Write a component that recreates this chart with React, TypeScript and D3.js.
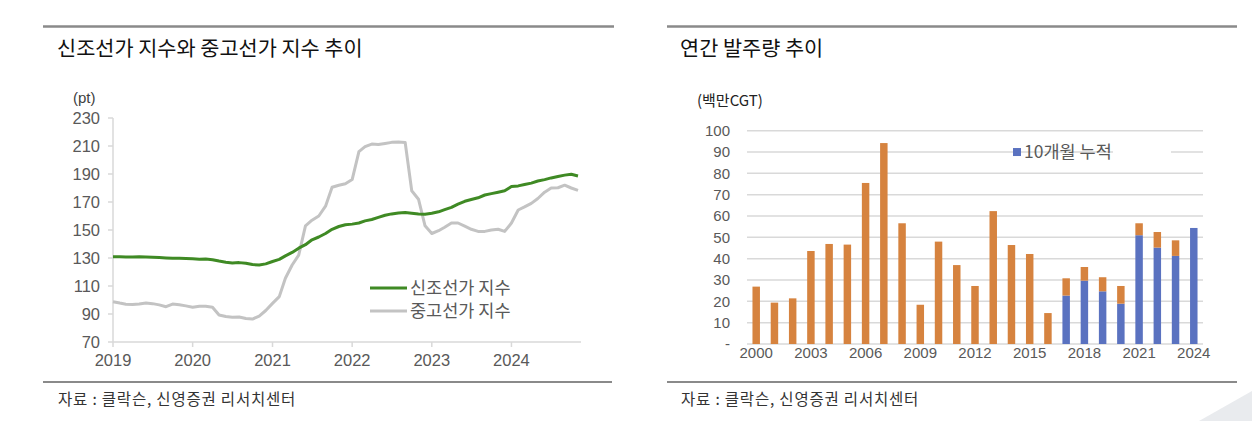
import React from "react";
import * as d3 from "d3";

// ---- left chart: monthly index values (Jan 2019 ~ Nov 2024)
const newbuildIndex = [
  130.9, 130.9, 130.8, 130.8, 130.9, 130.8, 130.6, 130.3, 130.0, 129.8, 129.8, 129.6,
  129.4, 129.1, 129.3, 128.8, 127.8, 127.0, 126.5, 126.7, 126.3, 125.3, 125.0, 125.8,
  127.5, 129.0, 131.5, 134.0, 137.0, 139.5, 143.0, 145.0, 147.5, 150.5, 152.5, 153.8,
  154.2, 155.0, 156.5, 157.5, 159.0, 160.5, 161.5, 162.2, 162.5, 162.0, 161.5, 161.3,
  162.0, 163.0, 164.5, 166.2, 168.5, 170.5, 171.8, 173.0, 175.0, 176.0, 177.0, 178.0,
  181.0, 181.5, 182.5, 183.5, 185.0, 186.0, 187.2, 188.2, 189.2, 189.8, 188.6,
];
const secondhandIndex = [
  98.8, 97.8, 97.0, 96.8, 97.2, 97.9, 97.4, 96.5, 95.2, 97.1, 96.6, 95.8,
  94.8, 95.6, 95.5, 94.8, 89.3, 88.2, 87.6, 87.9, 86.8, 86.4, 88.5, 92.5,
  97.6, 102.4, 115.5, 125.0, 132.0, 153.0, 157.0, 160.0, 167.0, 180.5, 182.0, 183.0,
  186.0, 206.0, 209.5, 211.4, 211.0, 211.8, 212.6, 212.8, 212.5, 178.0, 172.0, 153.0,
  147.5, 149.5, 152.0, 155.0, 155.0, 152.8, 150.5, 149.0, 149.0, 150.0, 150.5, 149.0,
  155.0, 164.3, 166.5, 169.0, 172.5, 177.0, 180.0, 180.2, 182.0, 180.0, 178.3,
];
const lineYearTicks = ["2019", "2020", "2021", "2022", "2023", "2024"];
const lineYTicks = [70, 90, 110, 130, 150, 170, 190, 210, 230];

// ---- right chart: annual orders (million CGT)
const orderYears = [
  "2000", "2001", "2002", "2003", "2004", "2005", "2006", "2007", "2008", "2009",
  "2010", "2011", "2012", "2013", "2014", "2015", "2016", "2017", "2018", "2019",
  "2020", "2021", "2022", "2023", "2024",
];
const annualTotal = [
  26.9, 19.4, 21.4, 43.6, 46.9, 46.6, 75.5, 94.2, 56.6, 18.4,
  48.0, 37.0, 27.2, 62.3, 46.4, 42.2, 14.5, 30.8, 36.1, 31.3,
  27.2, 56.6, 52.5, 48.6, 54.4,
];
const tenMonthCum = [
  null, null, null, null, null, null, null, null, null, null,
  null, null, null, null, null, null, null, 22.7, 29.7, 24.7,
  18.9, 51.0, 45.2, 41.3, 54.4,
];
const barLabelYears = ["2000", "2003", "2006", "2009", "2012", "2015", "2018", "2021", "2024"];
const barYTicks = [0, 10, 20, 30, 40, 50, 60, 70, 80, 90, 100];

const KR = "'Noto Sans CJK KR', 'Noto Sans', sans-serif";
const NUM = "'Liberation Sans', Arial, sans-serif";
const GREEN = "#3f8a24";
const GRAY = "#c3c3c3";
const ORANGE = "#d6833f";
const BLUE = "#5a72c0";
const AXIS = "#d9d9d9";
const LABEL = "#595959";

const App = () => {
  // left chart scales
  const months = d3.timeMonth.range(new Date(2019, 0, 1), new Date(2024, 11, 1));
  const x = d3.scaleTime().domain([new Date(2019, 0, 1), new Date(2024, 10, 1)]).range([113, 578]);
  const y = d3.scaleLinear().domain([70, 230]).range([342, 118]);
  const line = d3
    .line<number>()
    .x((d, i) => x(months[i]))
    .y((d) => y(d));

  // right chart scales
  const bx = d3.scaleBand().domain(orderYears).range([747, 1203]).paddingInner(0.59).paddingOuter(0.3);
  const by = d3.scaleLinear().domain([0, 100]).range([344, 130.7]);

  return (
    <svg width={1255} height={433} style={{ position: "absolute", left: 0, top: 0, background: "#fff" }}>
      {/* header / footer rules */}
      <line x1={43} x2={614} y1={26.5} y2={26.5} stroke="#8a8a8a" strokeWidth={2.5} />
      <line x1={667} x2={1237} y1={26.5} y2={26.5} stroke="#8a8a8a" strokeWidth={2.5} />
      <line x1={43} x2={612} y1={382} y2={382} stroke="#8a8a8a" strokeWidth={2} />
      <line x1={667} x2={1237} y1={382} y2={382} stroke="#8a8a8a" strokeWidth={2} />

      <text x={57} y={56} fontFamily={KR} fontSize={20.8} fill="#111">신조선가 지수와 중고선가 지수 추이</text>
      <text x={680} y={56} fontFamily={KR} fontSize={20.8} fill="#111">연간 발주량 추이</text>
      <text x={58} y={405} fontFamily={KR} fontSize={15.5} letterSpacing={0.8} fill="#333">
        자료 : 클락슨, 신영증권 리서치센터
      </text>
      <text x={681} y={405} fontFamily={KR} fontSize={15.5} letterSpacing={0.8} fill="#333">
        자료 : 클락슨, 신영증권 리서치센터
      </text>
      <polygon points="1199,421 1252,391 1252,421" fill="#e9ebee" />

      {/* ---------- left line chart ---------- */}
      <text x={73} y={103} fontFamily={NUM} fontSize={15} fill="#404040">(pt)</text>
      <line x1={113} x2={113} y1={y(230)} y2={y(70)} stroke={AXIS} strokeWidth={1.5} />
      <line x1={113} x2={581} y1={y(70)} y2={y(70)} stroke={AXIS} strokeWidth={1.5} />
      {lineYTicks.map((t) => (
        <g key={t}>
          <line x1={108} x2={113} y1={y(t)} y2={y(t)} stroke={AXIS} strokeWidth={1.5} />
          <text x={100} y={y(t)} dy="0.36em" textAnchor="end" fontFamily={NUM} fontSize={16.5} fill={LABEL}>
            {t}
          </text>
        </g>
      ))}
      {lineYearTicks.map((t) => {
        const px = x(new Date(+t, 0, 1));
        return (
          <g key={t}>
            <line x1={px} x2={px} y1={y(70)} y2={y(70) + 5} stroke={AXIS} strokeWidth={1.5} />
            <text x={px} y={366} textAnchor="middle" fontFamily={NUM} fontSize={16.5} fill={LABEL}>
              {t}
            </text>
          </g>
        );
      })}
      <path d={line(secondhandIndex) || ""} fill="none" stroke={GRAY} strokeWidth={3} strokeLinejoin="round" />
      <path d={line(newbuildIndex) || ""} fill="none" stroke={GREEN} strokeWidth={3} strokeLinejoin="round" />

      <line x1={370} x2={407} y1={288} y2={288} stroke={GREEN} strokeWidth={3} />
      <text x={410} y={288} dy="0.35em" fontFamily={KR} fontSize={17.5} fill={LABEL}>신조선가 지수</text>
      <line x1={370} x2={407} y1={311} y2={311} stroke={GRAY} strokeWidth={3} />
      <text x={410} y={311} dy="0.35em" fontFamily={KR} fontSize={17.5} fill={LABEL}>중고선가 지수</text>

      {/* ---------- right bar chart ---------- */}
      <text x={697} y={106} fontFamily={KR} fontSize={15} fill="#222">(백만CGT)</text>
      {barYTicks.map((t) => (
        <g key={t}>
          <line x1={747} x2={1203} y1={by(t)} y2={by(t)} stroke={AXIS} strokeWidth={1.5} />
          <text x={730} y={by(t)} dy="0.36em" textAnchor="end" fontFamily={NUM} fontSize={15} fill={LABEL}>
            {t === 0 ? "-" : t}
          </text>
        </g>
      ))}
      {/* legend box partly hides the 90 gridline */}
      <rect x={1113} y={by(90) - 3} width={58} height={6} fill="#fff" />
      {orderYears.map((yr, i) => {
        const bw = bx.bandwidth();
        const bx0 = bx(yr) as number;
        const total = annualTotal[i];
        const blue = tenMonthCum[i];
        const blueTop = blue == null ? 0 : blue;
        return (
          <g key={yr}>
            {blue != null && (
              <rect x={bx0} width={bw} y={by(blue)} height={by(0) - by(blue)} fill={BLUE} />
            )}
            {total > blueTop && (
              <rect x={bx0} width={bw} y={by(total)} height={by(blueTop) - by(total)} fill={ORANGE} />
            )}
          </g>
        );
      })}
      {barLabelYears.map((yr) => (
        <text
          key={yr}
          x={(bx(yr) as number) + bx.bandwidth() / 2}
          y={358}
          textAnchor="middle"
          fontFamily={NUM}
          fontSize={15}
          fill={LABEL}
        >
          {yr}
        </text>
      ))}
      <rect x={1013} y={by(90) - 4} width={8} height={8} fill={BLUE} />
      <text x={1024} y={by(90)} dy="0.36em" fontFamily={KR} fontSize={17.5} fill={LABEL}>10개월 누적</text>
    </svg>
  );
};

export default App;
